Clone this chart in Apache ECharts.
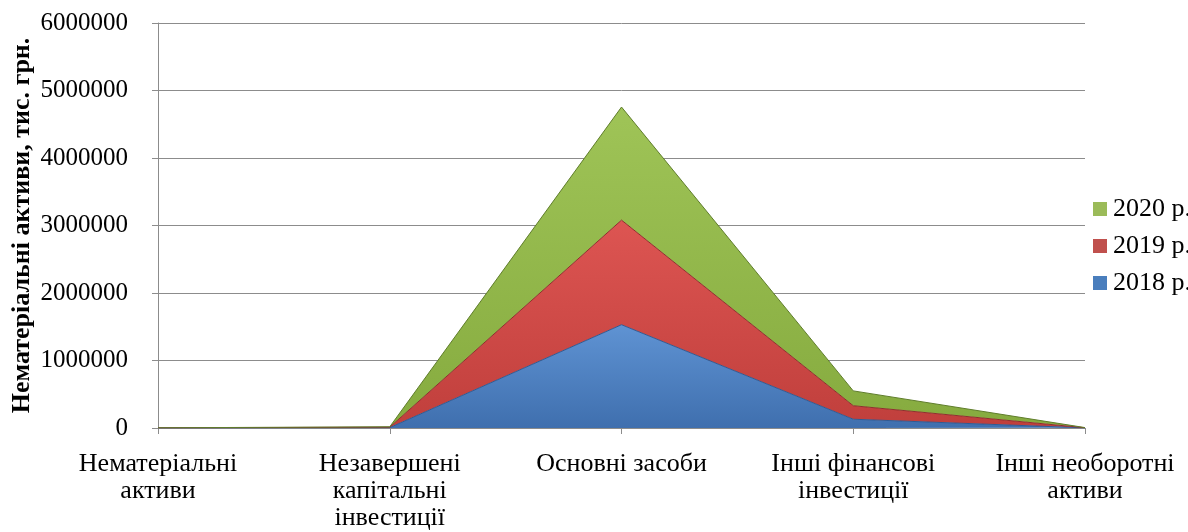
<!DOCTYPE html>
<html>
<head>
<meta charset="utf-8">
<script src="https://cdn.jsdelivr.net/npm/echarts@6/dist/echarts.min.js"></script>
<style>
  html, body { margin: 0; padding: 0; background: #fff; }
  #chart { width: 1188px; height: 532px; }
</style>
</head>
<body>
<div id="chart"></div>
<script>
// Non-current assets by type, thousand UAH (stacked by year)
const categories = [
  'Нематеріальні\nактиви',
  'Незавершені\nкапітальні\nінвестиції',
  'Основні засоби',
  'Інші фінансові\nінвестиції',
  'Інші необоротні\nактиви'
];
const values2018 = [1000, 6000, 1530000, 130000, 2000];
const values2019 = [1000, 6000, 1550000, 200000, 2000];
const values2020 = [1000, 6000, 1675000, 220000, 2000];
const yTicks = { min: 0, max: 6000000, interval: 1000000 };

const FONT = '"Liberation Serif", "Times New Roman", serif';

function grad(top, bottom) {
  return new echarts.graphic.LinearGradient(0, 0, 0, 1, [
    { offset: 0, color: top },
    { offset: 1, color: bottom }
  ]);
}

const seriesDefs = [
  { name: '2018 р.', data: values2018, fill: grad('#5f93d3', '#3f6fae'), line: '#2f5a93', icon: '#4a7ebd' },
  { name: '2019 р.', data: values2019, fill: grad('#dd5552', '#c03f3c'), line: '#8e2f2d', icon: '#c0504d' },
  { name: '2020 р.', data: values2020, fill: grad('#9fc457', '#86ab3f'), line: '#5f7d2b', icon: '#9bbb59' }
];

const chart = echarts.init(document.getElementById('chart'));
chart.setOption({
  animation: false,
  backgroundColor: '#fff',
  grid: { left: 158, right: 103, top: 23, bottom: 104, outerBoundsMode: 'none' },
  legend: {
    orient: 'vertical',
    left: 1088,
    top: 191,
    itemWidth: 14,
    itemHeight: 14,
    itemGap: 11,
    icon: 'rect',
    data: ['2020 р.', '2019 р.', '2018 р.'],
    textStyle: { fontFamily: FONT, fontSize: 26, color: '#000', padding: [0, 0, 0, 1] }
  },
  xAxis: {
    type: 'category',
    boundaryGap: false,
    data: categories,
    axisLine: { lineStyle: { color: '#8c8c8c', width: 1 } },
    axisTick: { show: true, length: 6, lineStyle: { color: '#8c8c8c' } },
    axisLabel: { fontFamily: FONT, fontSize: 26, color: '#000', lineHeight: 27, margin: 23, interval: 0 }
  },
  yAxis: {
    type: 'value',
    min: yTicks.min,
    max: yTicks.max,
    interval: yTicks.interval,
    name: 'Нематеріальні активи, тис. грн.',
    nameLocation: 'middle',
    nameGap: 123,
    nameMoveOverlap: false,
    nameTextStyle: { fontFamily: FONT, fontSize: 26, fontWeight: 'bold', color: '#000' },
    axisLine: { show: true, lineStyle: { color: '#8c8c8c' } },
    axisTick: { show: true, length: 6, lineStyle: { color: '#8c8c8c' } },
    splitLine: { lineStyle: { color: '#8c8c8c', width: 1 } },
    axisLabel: { fontFamily: FONT, fontSize: 25, color: '#000', margin: 30, formatter: v => String(v) }
  },
  series: seriesDefs.map(s => ({
    name: s.name,
    type: 'line',
    stack: 'total',
    data: s.data,
    symbol: 'none',
    itemStyle: { color: s.icon },
    lineStyle: { color: s.line, width: 1 },
    areaStyle: { color: s.fill, opacity: 1 }
  }))
});
</script>
</body>
</html>
